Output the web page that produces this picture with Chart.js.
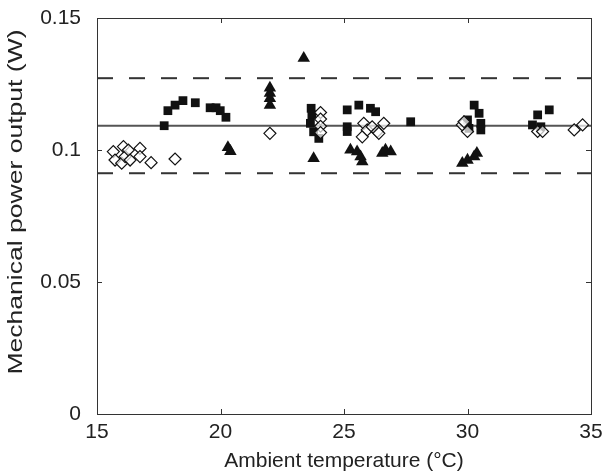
<!DOCTYPE html>
<html>
<head>
<meta charset="utf-8">
<script src="https://cdn.jsdelivr.net/npm/chart.js@4.4.0/dist/chart.umd.min.js"></script>
<style>
  body { margin: 0; background: #fff; }
</style>
</head>
<body>
<canvas id="chart" width="612" height="474"></canvas>
<script>
// tick values for both axes
const xTicks = [15, 20, 25, 30, 35];
const yTicks = [0, 0.05, 0.1, 0.15];
const yTitle = 'Mechanical power output (W)';

// filled squares
const squareX = [17.72, 17.87, 18.16, 18.48, 18.98, 19.58, 19.82, 19.99, 20.22,
    23.67, 23.70, 23.64, 23.77, 23.98,
    25.13, 25.13, 25.13, 25.60, 26.07, 26.28, 27.70,
    30.00, 30.06, 30.27, 30.47, 30.54, 30.54,
    32.63, 32.84, 32.97, 33.31];
const squareY = [0.1092, 0.1149, 0.1170, 0.1187, 0.1179, 0.1160, 0.1160, 0.1149, 0.1124,
    0.1158, 0.1133, 0.1101, 0.1069, 0.1044,
    0.1152, 0.1088, 0.1070, 0.1170, 0.1158, 0.1145, 0.1107,
    0.1114, 0.1082, 0.1170, 0.1139, 0.1101, 0.1076,
    0.1095, 0.1133, 0.1088, 0.1152];

// filled triangles
const triangleX = [20.30, 20.40, 22.00, 22.00, 22.00, 22.00, 23.37, 23.77,
    25.26, 25.53, 25.67, 25.74, 26.55, 26.68, 26.89,
    29.79, 30.00, 30.27, 30.38];
const triangleY = [0.1010, 0.0995, 0.1235, 0.1215, 0.1195, 0.1170, 0.1348, 0.0968,
    0.1000, 0.0994, 0.0975, 0.0956, 0.0988, 0.1000, 0.0994,
    0.0950, 0.0962, 0.0975, 0.0988];

// open diamonds
const diamondX = [15.66, 15.73, 16.00, 16.07, 16.14, 16.27, 16.34, 16.74, 16.74, 17.19, 18.16,
    22.00, 24.05, 24.05, 24.05, 24.05,
    25.74, 25.80, 25.94, 26.14, 26.35, 26.41, 26.61,
    29.79, 29.86, 30.00, 32.84, 33.04, 34.32, 34.66];
const diamondY = [0.0994, 0.0962, 0.0950, 0.1013, 0.0975, 0.1000, 0.0962, 0.1006, 0.0975, 0.0952, 0.0966,
    0.1063, 0.1142, 0.1117, 0.1090, 0.1066,
    0.1050, 0.1101, 0.1076, 0.1088, 0.1070, 0.1063, 0.1101,
    0.1095, 0.1107, 0.1070, 0.1070, 0.1070, 0.1076, 0.1095];

// mean and +/- limits
const lineX = [15, 35];
const meanLine = [0.1092, 0.1092];
const upperLine = [0.1272, 0.1272];
const lowerLine = [0.0912, 0.0912];

function toPoints(xs, ys) {
    return xs.map((v, i) => ({ x: v, y: ys[i] }));
}

const fontFamily = 'Liberation Sans, Arial, sans-serif';
const font = { family: fontFamily, size: 21 };

// closed box, inward ticks and the (stretched) y title
const boxTicks = {
    id: 'boxTicks',
    afterDatasetsDraw(chart) {
        const { ctx, chartArea: a, scales: { x, y } } = chart;
        ctx.save();
        ctx.strokeStyle = '#333';
        ctx.lineWidth = 1;
        ctx.strokeRect(a.left + 0.5, a.top + 0.5, a.right - a.left, a.bottom - a.top);
        ctx.beginPath();
        xTicks.forEach(v => {
            const px = Math.round(x.getPixelForValue(v)) + 0.5;
            ctx.moveTo(px, a.bottom); ctx.lineTo(px, a.bottom - 5);
            ctx.moveTo(px, a.top); ctx.lineTo(px, a.top + 5);
        });
        yTicks.forEach(v => {
            const py = Math.round(y.getPixelForValue(v)) + 0.5;
            ctx.moveTo(a.left, py); ctx.lineTo(a.left + 5, py);
            ctx.moveTo(a.right, py); ctx.lineTo(a.right - 5, py);
        });
        ctx.stroke();

        // y title, stretched along its length like the original figure
        ctx.font = '21px ' + fontFamily;
        ctx.fillStyle = '#222';
        ctx.textAlign = 'center';
        ctx.textBaseline = 'middle';
        ctx.translate(16, (a.top + a.bottom) / 2 - 14);
        ctx.rotate(-Math.PI / 2);
        const w = ctx.measureText(yTitle).width;
        ctx.scale(345 / w, 1);
        ctx.fillText(yTitle, 0, 0);
        ctx.restore();
    }
};

new Chart(document.getElementById('chart'), {
    type: 'scatter',
    data: {
        datasets: [
            {
                label: 'diamonds',
                data: toPoints(diamondX, diamondY),
                pointStyle: 'rectRot',
                pointRadius: 6,
                borderWidth: 1.2,
                borderColor: '#111',
                backgroundColor: 'rgba(255,255,255,0.7)',
                order: 1
            },
            {
                label: 'squares',
                data: toPoints(squareX, squareY),
                pointStyle: 'rect',
                pointRadius: 6.2,
                borderWidth: 0,
                backgroundColor: '#111',
                order: 2
            },
            {
                label: 'triangles',
                data: toPoints(triangleX, triangleY),
                pointStyle: 'triangle',
                pointRadius: 7.2,
                borderWidth: 0,
                backgroundColor: '#111',
                order: 3
            },
            {
                label: 'mean',
                data: toPoints(lineX, meanLine),
                showLine: true,
                pointRadius: 0,
                borderColor: '#555',
                borderWidth: 2,
                order: 4
            },
            {
                label: 'upper',
                data: toPoints(lineX, upperLine),
                showLine: true,
                pointRadius: 0,
                borderColor: '#333',
                borderWidth: 2,
                borderDash: [16, 16],
                order: 5
            },
            {
                label: 'lower',
                data: toPoints(lineX, lowerLine),
                showLine: true,
                pointRadius: 0,
                borderColor: '#333',
                borderWidth: 2,
                borderDash: [16, 16],
                order: 6
            }
        ]
    },
    options: {
        responsive: false,
        devicePixelRatio: 1,
        animation: false,
        layout: { padding: { top: 18, right: 21, left: 0, bottom: 0 } },
        plugins: { legend: { display: false }, tooltip: { enabled: false } },
        scales: {
            x: {
                type: 'linear',
                min: 15,
                max: 35,
                afterFit(scale) {
                    scale.height = 60;
                    scale.paddingLeft = 0;
                    scale.paddingRight = 0;
                },
                afterBuildTicks(scale) { scale.ticks = xTicks.map(v => ({ value: v })); },
                ticks: { font: font, color: '#222', padding: 6, maxRotation: 0 },
                grid: { display: false, drawTicks: false },
                border: { display: false },
                title: { display: true, text: 'Ambient temperature (°C)', font: font, color: '#222', padding: { top: 0, bottom: 0 } }
            },
            y: {
                min: 0,
                max: 0.15,
                afterFit(scale) {
                    scale.width = 97;
                    scale.paddingTop = 0;
                    scale.paddingBottom = 0;
                },
                afterBuildTicks(scale) { scale.ticks = yTicks.map(v => ({ value: v })); },
                ticks: { font: font, color: '#222', padding: 16, callback: v => String(v) },
                grid: { display: false, drawTicks: false },
                border: { display: false },
                title: { display: false }
            }
        }
    },
    plugins: [boxTicks]
});
</script>
</body>
</html>
